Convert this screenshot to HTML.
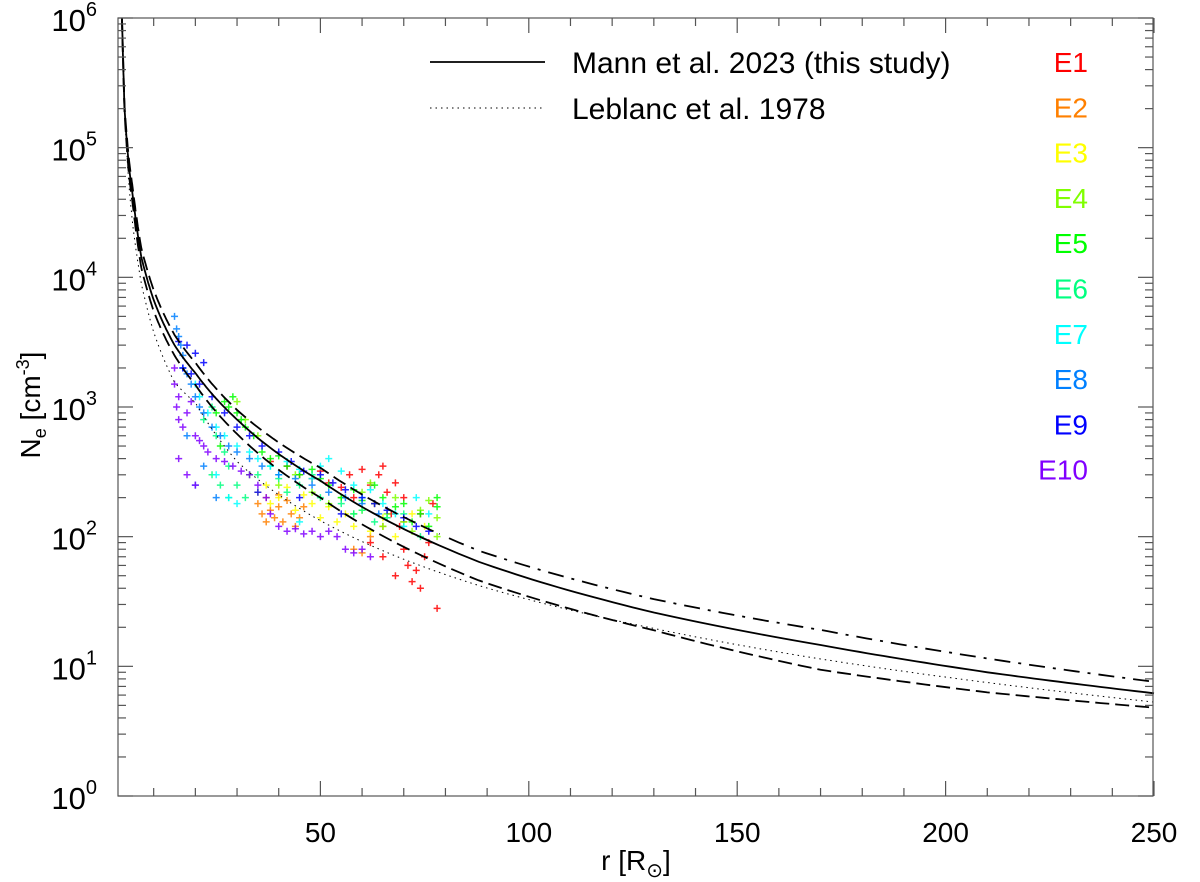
<!DOCTYPE html>
<html><head><meta charset="utf-8"><style>
html,body{margin:0;padding:0;background:#fff;}
svg{display:block;font-family:"Liberation Sans",Arial,sans-serif;}
</style></head><body>
<svg id="chart" width="1200" height="882" viewBox="0 0 1200 882" xmlns="http://www.w3.org/2000/svg">
<g id="scatter"></g>
<g id="curves"></g>
<g id="axes"></g>
<g>
  <line x1="430" y1="62" x2="545" y2="62" stroke="#000" stroke-width="1.8"/>
  <text x="572" y="73" font-size="30">Mann et al. 2023 (this study)</text>
  <line x1="430" y1="108" x2="545" y2="108" stroke="#000" stroke-width="1" stroke-dasharray="1.5,4"/>
  <text x="572" y="119" font-size="30">Leblanc et al. 1978</text>
</g>
<g id="evlegend"></g>
<text x="636" y="870" font-size="28" text-anchor="middle">r [R<tspan font-size="20" dy="7">⊙</tspan><tspan dy="-7">]</tspan></text>
<text transform="translate(40,405) rotate(-90)" font-size="28" text-anchor="middle">N<tspan font-size="18" dy="6">e</tspan><tspan dy="-6"> [cm</tspan><tspan font-size="18" dy="-11">-3</tspan><tspan dy="11">]</tspan></text>
</svg>
<script>
const eventNames = ["E1","E2","E3","E4","E5","E6","E7","E8","E9","E10"];
const eventColors = ["#ff0000","#ff8000","#ffff00","#80ff00","#00ff00","#00ff80","#00ffff","#0080ff","#0000ff","#8000ff"];
const xTicks = [50,100,150,200,250];
const yTickExps = [0,1,2,3,4,5,6];
const curveR = [2.4,3,4,5,7,10,15,20,30,50,88,130,170,210,250];
const mannN = [1e6,2e5,75000,42000,14500,6700,3000,1830,800,270,64,26,14.6,9,6.2];
const upperN = [1e6,2.1e5,85000,48000,17000,8000,3600,2200,950,340,78,33,19.1,11.5,7.6];
const lowerN = [1e6,1.9e5,65000,36000,12000,5500,2500,1480,620,200,46,19,9.4,6.3,4.8];
const leblancN = [9e5,1.9e5,55000,25000,9100,3790,1550,1080,380,133,42,19.6,11.4,7.5,5.3];
const e1 = [[38,380],[42,350],[45,300],[48,280],[50,320],[52,260],[55,240],[57,300],[58,200],[60,330],[62,250],[63,180],[64,300],[65,350],[66,220],[67,150],[68,260],[69,120],[70,80],[70,200],[71,60],[72,45],[73,55],[74,40],[74,150],[75,70],[76,90],[77,180],[78,28],[62,90],[65,70],[68,50]];
const e2 = [[35,180],[36,150],[37,130],[37,200],[38,160],[39,140],[40,170],[40,210],[41,130],[42,190],[43,150],[44,120],[45,140],[46,170],[58,80],[60,75],[62,100],[65,120],[70,130]];
const e3 = [[35,220],[37,250],[38,180],[40,200],[42,240],[44,160],[46,210],[48,180],[50,140],[52,170],[54,130],[56,150],[58,120],[60,160],[62,110],[65,140],[68,100],[72,150],[75,120]];
const e4 = [[30,1100],[32,800],[35,600],[40,250],[44,300],[48,220],[52,180],[55,200],[58,150],[60,220],[63,180],[66,150],[68,200],[70,130],[72,110],[74,160],[76,190],[78,140],[78,100],[65,120],[62,260]];
const e5 = [[25,900],[27,1100],[28,1000],[29,1200],[30,900],[31,800],[32,700],[34,600],[36,450],[38,400],[40,420],[42,350],[45,300],[48,330],[50,280],[52,250],[55,200],[58,230],[60,190],[63,250],[65,200],[68,170],[70,180],[72,130],[74,150],[76,120],[78,170],[78,200],[26,500],[33,300]];
const e6 = [[22,800],[24,1000],[25,600],[27,450],[28,350],[30,250],[32,200],[35,300],[38,350],[40,280],[42,220],[45,250],[48,300],[50,200],[55,180],[58,150],[60,160],[63,130],[66,140],[70,150],[74,100],[24,300],[26,250],[28,200]];
const e7 = [[20,1500],[21,1200],[23,900],[25,700],[27,600],[30,500],[33,450],[35,400],[38,350],[40,300],[42,380],[45,330],[48,280],[50,350],[52,400],[55,320],[58,250],[60,200],[62,230],[65,180],[68,150],[70,120],[73,200],[76,150],[25,300],[28,200],[30,180],[45,130]];
const e8 = [[15,5000],[15.5,4000],[16,3500],[16.5,3000],[17,2500],[17,2000],[18,1800],[19,1500],[20,1200],[21,1000],[22,900],[24,700],[26,600],[28,500],[30,450],[33,400],[36,350],[40,300],[44,280],[48,250],[52,220],[56,200],[60,180],[64,150],[18,600],[20,250],[22,350],[25,200]];
const e9 = [[16,3200],[18,3000],[20,2600],[22,2200],[17,2000],[19,1800],[21,1500],[24,1200],[27,900],[30,700],[33,600],[36,500],[40,450],[43,380],[46,320],[50,300],[53,260],[56,230],[60,200],[63,180],[66,160],[70,140],[73,120],[76,110],[35,220],[45,200],[55,150]];
const e10 = [[15,2000],[15,1500],[16,1200],[15.5,1000],[16,800],[17,700],[18,900],[19,1100],[20,600],[21,550],[22,500],[23,450],[25,400],[27,380],[29,350],[31,320],[33,300],[35,250],[37,200],[38,150],[40,120],[42,110],[44,115],[46,105],[48,110],[50,100],[52,110],[54,100],[56,80],[58,75],[60,80],[62,70],[16,400],[18,300],[20,250]];
const events = [e1,e2,e3,e4,e5,e6,e7,e8,e9,e10];

const NS="http://www.w3.org/2000/svg";
const L=118,R=1153,T=18,B=796;
const xS=r=>112+(1154-112)*r/250;
const yS=n=>B-(B-T)*Math.log10(n)/6;
function mk(tag,attrs,parent){const e=document.createElementNS(NS,tag);for(const k in attrs)e.setAttribute(k,attrs[k]);parent.appendChild(e);return e;}

const sc=document.getElementById('scatter');
events.forEach((ev,i)=>{
  ev.forEach(p=>{
    const x=xS(p[0]),y=yS(p[1]);
    const c=mk('path',{d:`M${x-3.5},${y}H${x+3.5}M${x},${y-3.5}V${y+3.5}`,stroke:eventColors[i],'stroke-width':1.5,fill:'none',opacity:0.85},sc);
    
    
  });
});

const cv=document.getElementById('curves');
function curvePath(ns,r0,r1){
  let d='';let first=true;
  for(let k=0;k<curveR.length-1;k++){
    const la=Math.log(curveR[k]),lb=Math.log(curveR[k+1]);
    for(let s=0;s<20;s++){
      const t=s/20;const r=Math.exp(la+(lb-la)*t);
      if(r<r0||r>r1)continue;
      const ln=Math.log(ns[k])+(Math.log(ns[k+1])-Math.log(ns[k]))*t;
      let y=yS(Math.exp(ln));if(y<T)y=T;
      d+=(first?'M':'L')+xS(r).toFixed(1)+','+y.toFixed(1);first=false;
    }
  }
  if(r1>=250) d+='L'+xS(curveR[curveR.length-1]).toFixed(1)+','+yS(ns[ns.length-1]).toFixed(1);
  return d;
}
function addCurve(ns,dash,w,name,r0,r1){
  const p=mk('path',{d:curvePath(ns,r0||0,r1||999),fill:'none',stroke:'#000','stroke-width':w},cv);
  if(dash)p.setAttribute('stroke-dasharray',dash);
  
  
}
addCurve(leblancN,'1.5,4',1,'leblanc-curve');
addCurve(upperN,'14,6',1.8,'upper-bound-curve-dashed',0,80);
addCurve(upperN,'16,8,3,8',1.8,'upper-bound-curve-dashdot',79,999);
addCurve(lowerN,'14,6',1.8,'lower-bound-curve');
addCurve(mannN,null,1.8,'mann-curve');

const ax=document.getElementById('axes');
const frame=mk('rect',{x:L,y:T,width:R-L,height:B-T,fill:'none',stroke:'#555','stroke-width':1.2},ax);


for(let v=10;v<=250;v+=10){
  const x=xS(v);const len=(v%50===0)?15:8;
  mk('line',{x1:x,y1:B,x2:x,y2:B-len,stroke:'#555','stroke-width':1.2},ax);
  mk('line',{x1:x,y1:T,x2:x,y2:T+len,stroke:'#555','stroke-width':1.2},ax);
}
xTicks.forEach(v=>{
  const t=mk('text',{x:xS(v),y:842,'font-size':28,'text-anchor':'middle'},ax);
  t.textContent=v;
  
  
});
yTickExps.forEach(e=>{
  const y=yS(Math.pow(10,e));
  mk('line',{x1:L,y1:y,x2:L+15,y2:y,stroke:'#555','stroke-width':1.2},ax);
  mk('line',{x1:R,y1:y,x2:R-15,y2:y,stroke:'#555','stroke-width':1.2},ax);
  if(e<6){for(let m=2;m<=9;m++){const yy=yS(m*Math.pow(10,e));
    mk('line',{x1:L,y1:yy,x2:L+8,y2:yy,stroke:'#555','stroke-width':1.2},ax);
    mk('line',{x1:R,y1:yy,x2:R-8,y2:yy,stroke:'#555','stroke-width':1.2},ax);}}
  const t=mk('text',{x:97,y:y+13,'font-size':31,'text-anchor':'end'},ax);
  t.textContent='10';
  const s=mk('tspan',{'font-size':20,dy:-15},t);s.textContent=e;
  
  
});

const el=document.getElementById('evlegend');
eventNames.forEach((n,i)=>{
  const t=mk('text',{x:1088,y:72+i*45.3,'font-size':28,'text-anchor':'end',fill:eventColors[i]},el);
  t.textContent=n;
  
  
});
</script>
</body></html>
